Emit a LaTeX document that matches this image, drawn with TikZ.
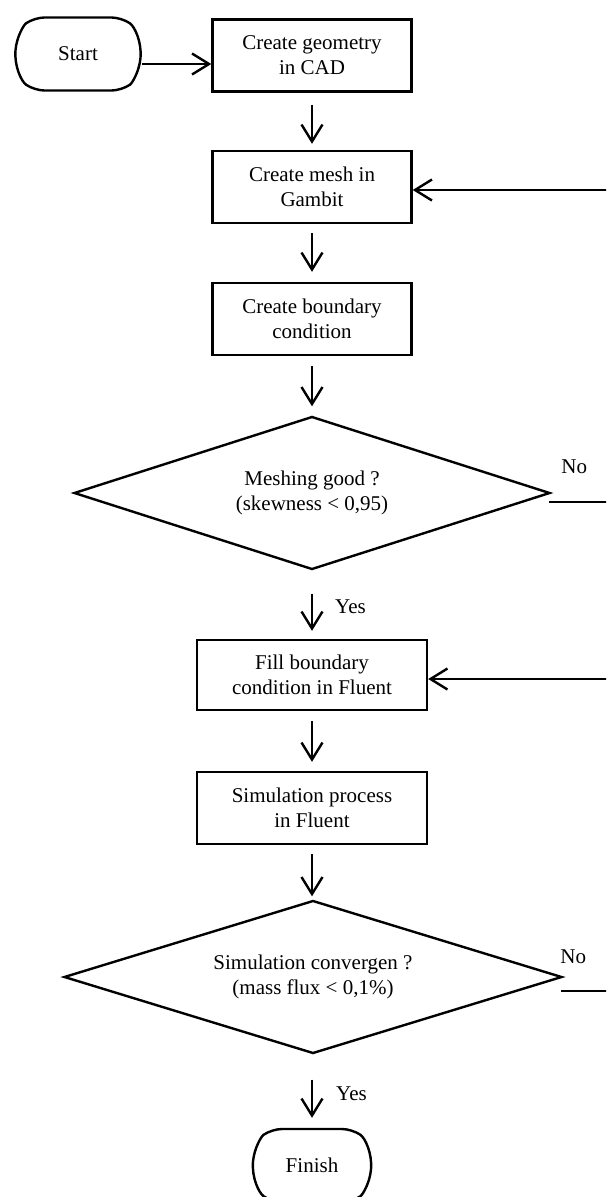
\documentclass[tikz,border=0pt]{standalone}
\usepackage{fontspec}
\setmainfont{Liberation Serif}
\usetikzlibrary{shapes.geometric,shapes.misc,arrows.meta}

\begin{document}
\begin{tikzpicture}[x=1pt,y=-1pt,line width=2.4pt,
  every node/.style={font=\fontsize{21pt}{25pt}\selectfont},
  terminal/.style={draw,rounded rectangle,rounded rectangle arc length=110,rounded corners=10pt,minimum width=132pt,minimum height=73pt},
  process/.style={draw,rectangle,align=center,minimum width=199pt,minimum height=72pt,inner sep=0pt},
  decision/.style={draw,diamond,aspect=3,align=center,inner sep=0pt,minimum height=153pt},
  flow/.style={-{Straight Barb[length=17pt,width=21pt]}},
  answer/.style={inner sep=0pt}]
\useasboundingbox (0,0) rectangle (606,1197);
\clip (0,0) rectangle (606,1197);
\node[terminal] (start) at (78,54) {Start};
\node[process] (geom) at (312,55.5) {Create geometry\\in CAD};
\node[process] (mesh) at (312,187) {Create mesh in\\Gambit};
\node[process] (bc) at (312,319) {Create boundary\\condition};
\node[decision,minimum width=476pt] (d1) at (312,493) {Meshing good ?\\(skewness < 0,95)};
\node[process,minimum width=230pt,minimum height=70pt] (fill) at (312,675) {Fill boundary\\condition in Fluent};
\node[process,minimum width=230pt] (sim) at (312,808) {Simulation process\\in Fluent};
\node[decision,minimum width=498pt] (d2) at (313,977) {Simulation convergen ?\\(mass flux < 0,1\%)};
\node[terminal,minimum width=125pt] (finish) at (312,1165.5) {Finish};
\draw[flow] ([yshift=-10pt]start.east) -- ([yshift=-10pt]start.east -| geom.west);
\foreach \a/\b/\s/\e in {geom/mesh/12pt/6pt, mesh/bc/9pt/10pt, bc/d1/10pt/9pt, d1/fill/23pt/8pt, fill/sim/10pt/9pt, sim/d2/9pt/3pt, d2/finish/25pt/10pt}
  \draw[flow,shorten <=\s,shorten >=\e] (\a.south -| 312,0) -- (\b.north -| 312,0);
\node[answer,anchor=west] (yes1) at ([shift={(22pt,-36pt)}]d1.south) {Yes};
\node[answer,anchor=west] (yes2) at ([shift={(22pt,-39pt)}]d2.south) {Yes};
\node[answer] (no1) at ([shift={(23pt,26pt)}]d1.east) {No};
\node[answer] (no2) at ([shift={(10pt,20pt)}]d2.east) {No};
\draw[flow] ([shift={(-2pt,-9pt)}]d1.east) -- ++(100pt,0) |- ([yshift=-3pt]mesh.east);
\draw[flow] ([shift={(-2pt,-14pt)}]d2.east) -- ++(100pt,0) |- ([yshift=-4pt]fill.east);
\end{tikzpicture}
\end{document}
